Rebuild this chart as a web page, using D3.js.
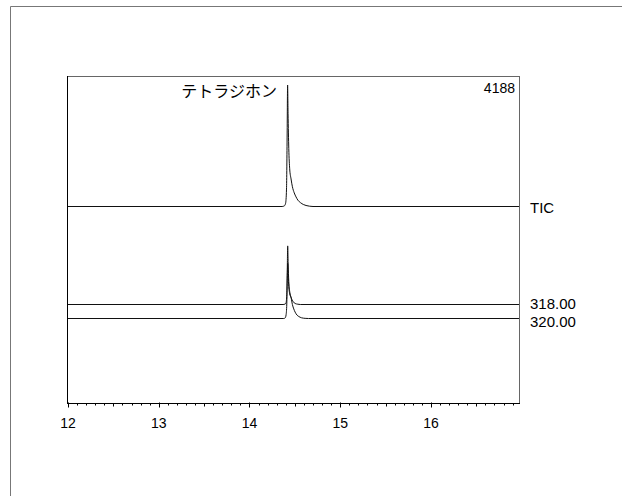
<!DOCTYPE html>
<html>
<head>
<meta charset="utf-8">
<script src="https://cdn.jsdelivr.net/npm/d3@7/dist/d3.min.js"></script>
<style>
  html, body { margin: 0; padding: 0; background: #fff; }
  svg { display: block; }
  text { font-family: "Liberation Sans", Arial, sans-serif; fill: #000; }
</style>
</head>
<body>
<svg id="chart" width="622" height="496"></svg>
<script>
// Retention-time axis (minutes)
const timeDomain = [12, 16.97];
const timeTicks = [12, 13, 14, 15, 16];
const tickLabels = ["12", "13", "14", "15", "16"];

// Trace names shown at the right of each chromatogram
const traceNames = ["TIC", "318.00", "320.00"];
const compoundName = "テトラジホン";
const maxAbundance = 4188;

// Total ion chromatogram: [time, abundance]
const ticSeries = [
  [12.00, 0], [14.36, 0], [14.385, 25], [14.398, 110], [14.408, 600],
  [14.415, 2500], [14.420, 4188], [14.425, 3200], [14.433, 2000],
  [14.443, 1300], [14.458, 950], [14.473, 680], [14.493, 470],
  [14.513, 330], [14.533, 220], [14.563, 130], [14.593, 70],
  [14.623, 35], [14.663, 10], [14.70, 0], [16.97, 0]
];

// Extracted ion m/z 318.00
const ion318Series = [
  [12.00, 0], [14.37, 0], [14.392, 15], [14.403, 60], [14.411, 350],
  [14.416, 1100], [14.421, 2020], [14.426, 1400], [14.433, 800],
  [14.443, 450], [14.453, 300], [14.468, 170], [14.483, 90],
  [14.503, 35], [14.533, 10], [14.56, 0], [16.97, 0]
];

// Extracted ion m/z 320.00
const ion320Series = [
  [12.00, 0], [14.378, 0], [14.393, 20], [14.403, 120], [14.411, 500],
  [14.416, 1300], [14.421, 1900], [14.426, 1500], [14.433, 1100],
  [14.443, 850], [14.458, 720], [14.473, 480], [14.488, 330],
  [14.503, 220], [14.523, 120], [14.543, 70], [14.573, 25],
  [14.613, 5], [14.65, 0], [16.97, 0]
];

const svg = d3.select("#chart");

// outer frame (top and left edges lie inside the page)
svg.append("path")
  .attr("d", "M10.5,496V6.5H622")
  .attr("fill", "none").attr("stroke", "#777").attr("stroke-width", 1);

const plot = { left: 68, right: 519, top: 76, bottom: 403 };

const x = d3.scaleLinear().domain(timeDomain).range([plot.left, plot.right]);
// abundance -> pixel height above each trace's baseline
const h = d3.scaleLinear().domain([0, maxAbundance]).range([0, 121.5]);

// plot frame: top/right in grey, left/bottom in black
svg.append("line").attr("x1", plot.left).attr("x2", plot.right + 0.5)
  .attr("y1", plot.top + 0.5).attr("y2", plot.top + 0.5)
  .attr("stroke", "#666");
svg.append("line").attr("x1", plot.right + 0.5).attr("x2", plot.right + 0.5)
  .attr("y1", plot.top).attr("y2", plot.bottom)
  .attr("stroke", "#666");
svg.append("line").attr("x1", plot.left - 0.5).attr("x2", plot.left - 0.5)
  .attr("y1", plot.top).attr("y2", plot.bottom + 0.5)
  .attr("stroke", "#000");

// bottom axis with integer, half and tenth ticks
const axisG = svg.append("g").attr("transform", `translate(0,${plot.bottom + 0.5})`);
axisG.append("line").attr("x1", plot.left - 1).attr("x2", plot.right + 1)
  .attr("stroke", "#000");
const minorTicks = d3.range(120, 170).map(v => v / 10)
  .filter(v => v <= timeDomain[1]);
axisG.selectAll("line.tick").data(minorTicks).join("line")
  .attr("class", "tick")
  .attr("x1", d => Math.round(x(d)) + 0.5).attr("x2", d => Math.round(x(d)) + 0.5)
  .attr("y1", d => Math.abs(d - Math.round(d)) < 1e-6 ? -1 : 0)
  .attr("y2", d => Math.abs(d - Math.round(d)) < 1e-6 ? 4 :
                   (Math.abs(d * 2 - Math.round(d * 2)) < 1e-6 ? 3 : 2))
  .attr("stroke", "#000");
axisG.selectAll("text").data(timeTicks).join("text")
  .attr("x", d => x(d))
  .attr("y", 24)
  .attr("text-anchor", "middle")
  .attr("font-size", 14)
  .text((d, i) => tickLabels[i]);

// chromatogram traces
const traces = [
  { name: traceNames[0], data: ticSeries, base: 206.5, labelY: 212.5 },
  { name: traceNames[1], data: ion318Series, base: 304.5, labelY: 308.5 },
  { name: traceNames[2], data: ion320Series, base: 318.5, labelY: 327 }
];

traces.forEach(t => {
  const line = d3.line()
    .x(d => x(d[0]))
    .y(d => t.base - h(d[1]))
    .curve(d3.curveMonotoneX);
  svg.append("path")
    .datum(t.data)
    .attr("d", line)
    .attr("fill", "none")
    .attr("stroke", "#111")
    .attr("stroke-width", 1);
  svg.append("text")
    .attr("x", 530).attr("y", t.labelY)
    .attr("font-size", 15)
    .text(t.name);
});

// maximum abundance and compound label
svg.append("text")
  .attr("x", 515).attr("y", 93)
  .attr("text-anchor", "end")
  .attr("font-size", 14)
  .text(maxAbundance);
svg.append("text")
  .attr("x", 277).attr("y", 97)
  .attr("text-anchor", "end")
  .attr("font-size", 16)
  .style("font-family", "'Noto Sans CJK JP', sans-serif")
  .text(compoundName);
</script>
</body>
</html>
